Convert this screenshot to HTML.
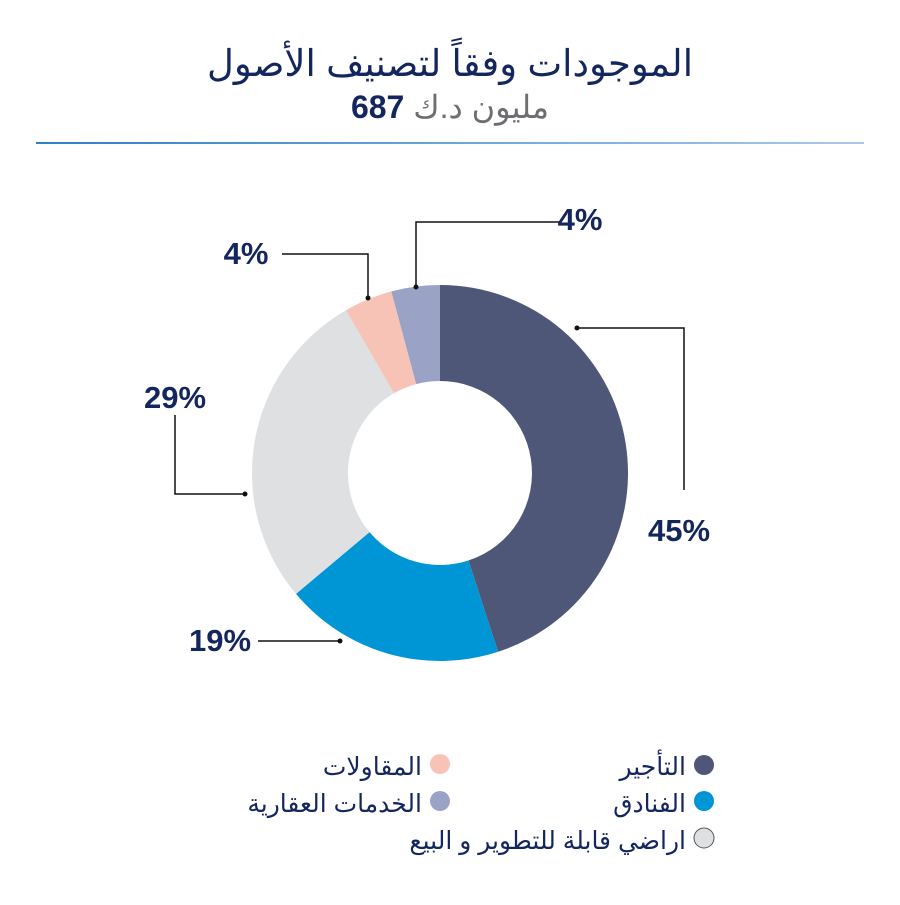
<!DOCTYPE html>
<html><head><meta charset="utf-8"><style>
body{margin:0;background:#fff;}
svg text{font-family:"Liberation Sans","Noto Sans CJK SC",sans-serif;}
</style></head><body>
<svg width="900" height="900" viewBox="0 0 900 900" xmlns="http://www.w3.org/2000/svg">
<defs><linearGradient id="g" x1="0" x2="1"><stop offset="0" stop-color="#2f7fc8"/><stop offset="1" stop-color="#a9c9ea"/></linearGradient></defs>
<rect width="900" height="900" fill="#fff"/>
<text x="450" y="76" text-anchor="middle" font-size="37" fill="#14265e">الموجودات وفقاً لتصنيف الأصول</text>
<text x="450" y="118" text-anchor="middle" font-size="32"><tspan fill="#6d6e71">مليون د.ك </tspan><tspan fill="#14265e" font-weight="bold">687</tspan></text>
<rect x="36" y="142" width="828" height="2" fill="url(#g)"/>
<path d="M440,285 A188,188 0 0 1 498.1,651.8 L468.4,560.5 A92,92 0 0 0 440,381 Z" fill="#4f5779"/>
<path d="M498.1,651.8 A188,188 0 0 1 296,593.9 L369.5,532.1 A92,92 0 0 0 468.4,560.5 Z" fill="#0096d6"/>
<path d="M296,593.9 A188,188 0 0 1 346,310.2 L394,393.3 A92,92 0 0 0 369.5,532.1 Z" fill="#dfe0e2"/>
<path d="M346,310.2 A188,188 0 0 1 391.3,291.4 L416.2,384.1 A92,92 0 0 0 394,393.3 Z" fill="#f7c3b6"/>
<path d="M391.3,291.4 A188,188 0 0 1 440,285 L440,381 A92,92 0 0 0 416.2,384.1 Z" fill="#9aa3c5"/>
<g stroke="#111" stroke-width="1.5" fill="none">
<polyline points="577,328 684,328 684,490"/>
<polyline points="175,415 175,494 245,494"/>
<polyline points="258,641 340,641"/>
<polyline points="282,254 368,254 368,298"/>
<polyline points="560,222 416,222 416,287"/>
</g>
<g fill="#111"><circle cx="577" cy="328" r="2.5"/><circle cx="245" cy="494" r="2.5"/><circle cx="340" cy="641" r="2.5"/><circle cx="368" cy="298" r="2.5"/><circle cx="416" cy="287" r="2.5"/></g>
<g font-size="31" font-weight="bold" fill="#14265e" text-anchor="middle">
<text x="679" y="541">45%</text>
<text x="175" y="408">29%</text>
<text x="220" y="651">19%</text>
<text x="246" y="264">4%</text>
<text x="580" y="230">4%</text>
</g>
<g font-size="25" fill="#14265e" text-anchor="end">
<circle cx="704" cy="765" r="10" fill="#4f5779"/><text x="686" y="775">التأجير</text>
<circle cx="704" cy="801" r="10" fill="#0096d6"/><text x="686" y="812">الفنادق</text>
<circle cx="704" cy="838" r="10" fill="#dfe0e2" stroke="#555" stroke-width="1"/><text x="686" y="849">اراضي قابلة للتطوير و البيع</text>
<circle cx="440" cy="764" r="10" fill="#f7c3b6"/><text x="422" y="775">المقاولات</text>
<circle cx="440" cy="801" r="10" fill="#9aa3c5"/><text x="422" y="812">الخدمات العقارية</text>
</g>
</svg>
</body></html>
